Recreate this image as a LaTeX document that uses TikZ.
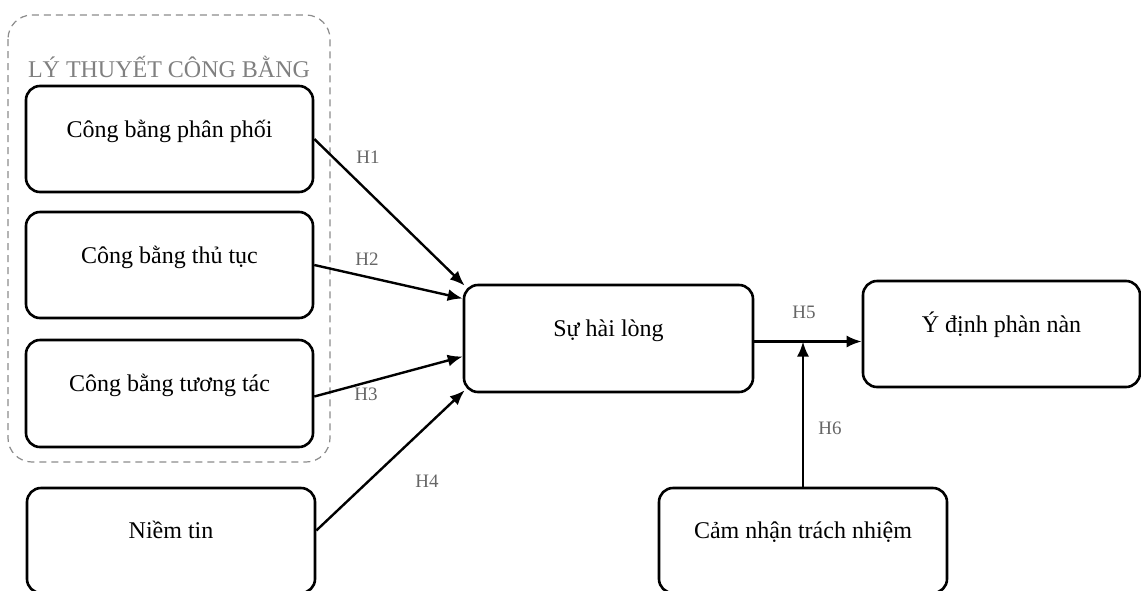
\documentclass[tikz,border=0pt]{standalone}
\usepackage{fontspec}
\setmainfont{Liberation Serif}
\usetikzlibrary{arrows.meta}

\begin{document}
\begin{tikzpicture}[x=0.5pt,y=-0.5pt,
  box/.style={draw,line width=1.3pt,rounded corners=7pt,text height=9pt,text depth=11pt,
    inner sep=0pt,font=\fontsize{12}{14}\selectfont},
  hlabel/.style={text=black!60,inner sep=0pt,font=\fontsize{9.5}{11}\selectfont},
  link/.style={-{Latex[length=7.5pt,width=6pt]},line width=1.2pt}]
  \clip (0,0) rectangle (1141,590);
  \fill[white] (0,0) rectangle (1141,590);
  % nhom ly thuyet
  \draw[black!45,line width=0.6pt,dash pattern=on 3.5pt off 2.5pt,rounded corners=12pt] (8,15) rectangle (330,462);
  \node[text=black!50,inner sep=0pt,anchor=base,font=\fontsize{12}{14}\selectfont] (tieude) at (169,77) {LÝ THUYẾT CÔNG BẰNG};
  \node[box,minimum width=143.5pt,minimum height=53pt] (cbpp) at (169.5,139) {Công bằng phân phối};
  \node[box,minimum width=143.5pt,minimum height=53pt] (cbtt) at (169.5,265) {Công bằng thủ tục};
  \node[box,minimum width=143.5pt,minimum height=53.5pt] (cbtd) at (169.5,393.5) {Công bằng tương tác};
  \node[box,minimum width=144pt,minimum height=52.5pt] (niemtin) at (171,540.5) {Niềm tin};
  \node[box,minimum width=144.5pt,minimum height=53.5pt] (hailong) at (608.5,338.5) {Sự hài lòng};
  \node[box,minimum width=138.5pt,minimum height=53pt] (ydinh) at (1001.5,334) {Ý định phàn nàn};
  \node[box,minimum width=144pt,minimum height=52.5pt] (camnhan) at (803,540.5) {Cảm nhận trách nhiệm};
  % cac gia thuyet
  \draw[link] (cbpp.east) to ([xshift=1pt,yshift=-1pt]hailong.north west);
  \draw[link] (cbtt.east) to ([yshift=20pt]hailong.west);
  \draw[link] ([yshift=-1.5pt]cbtd.east) to ([yshift=-9pt]hailong.west);
  \draw[link] ([yshift=5pt]niemtin.east) to ([xshift=1pt,yshift=1.5pt]hailong.south west);
  \coordinate (giao) at ([yshift=-1.5pt]hailong.east -| camnhan.north);
  \draw[link] ([yshift=-1.5pt]hailong.east) to ([yshift=-1.5pt]hailong.east -| ydinh.west);
  \draw[link] (camnhan.north) to (giao);
  \node[hlabel] (h1) at (368,157) {H1};
  \node[hlabel] (h2) at (367,259) {H2};
  \node[hlabel] (h3) at (366,394) {H3};
  \node[hlabel] (h4) at (427,481) {H4};
  \node[hlabel] (h5) at (804,312) {H5};
  \node[hlabel] (h6) at (830,428) {H6};
\end{tikzpicture}
\end{document}
